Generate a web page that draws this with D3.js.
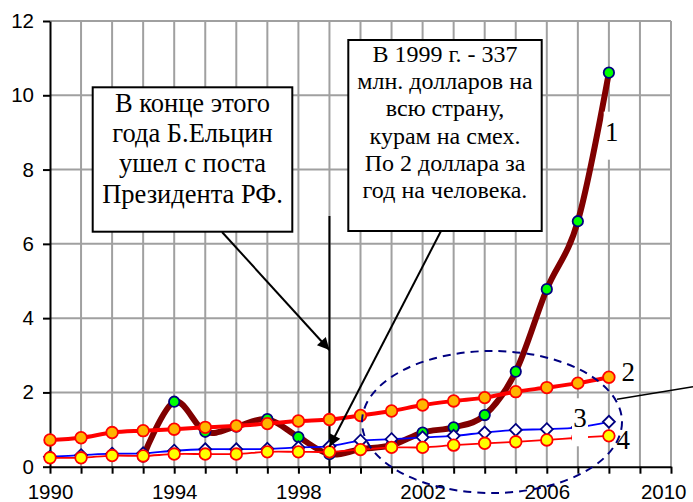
<!DOCTYPE html>
<html lang="ru">
<head>
<meta charset="UTF-8">
<title>Chart</title>
<script src="https://d3js.org/d3.v7.min.js"></script>
<style>
  * { margin: 0; padding: 0; }
  body { background: #fff; }
  .note { font-family: "Liberation Serif", "Times New Roman", serif; fill: #000; }
</style>
</head>
<body>
<svg width="693" height="502"></svg>
<script>
// years for the long series
var years = [1990, 1991, 1992, 1993, 1994, 1995, 1996, 1997, 1998, 1999,
             2000, 2001, 2002, 2003, 2004, 2005, 2006, 2007, 2008];
// series 1 starts in 1993
var years1 = [1993, 1994, 1995, 1996, 1997, 1998, 1999, 2000,
              2001, 2002, 2003, 2004, 2005, 2006, 2007, 2008];
var series1 = [0.27, 1.75, 0.94, 1.08, 1.28, 0.80, 0.337, 0.47,
               0.58, 0.92, 1.06, 1.39, 2.56, 4.78, 6.61, 10.61];
var series2 = [0.72, 0.78, 0.92, 0.97, 1.01, 1.06, 1.10, 1.16, 1.23, 1.27,
               1.38, 1.50, 1.66, 1.77, 1.86, 2.02, 2.13, 2.25, 2.41];
var series3 = [0.27, 0.31, 0.35, 0.36, 0.43, 0.47, 0.47, 0.48, 0.52, 0.55,
               0.70, 0.74, 0.79, 0.83, 0.92, 0.99, 1.01, 1.06, 1.21];
var series4 = [0.24, 0.24, 0.30, 0.29, 0.34, 0.34, 0.34, 0.40, 0.40, 0.40,
               0.46, 0.52, 0.52, 0.58, 0.63, 0.67, 0.72, 0.78, 0.83];
var yTicks = [0, 2, 4, 6, 8, 10, 12];
var xLabels = [1990, 1994, 1998, 2002, 2006, 2010];
var note1 = ["В конце этого", "года Б.Ельцин", "ушел с поста", "Президента РФ."];
var note2 = ["В 1999 г. - 337", "млн. долларов на", "всю страну,",
             "курам на смех.", "По 2 доллара за", "год на человека."];

var svg = d3.select("svg");
var x = d3.scaleLinear().domain([1990, 2010]).range([50, 671]);
var y = d3.scaleLinear().domain([0, 12]).range([466.7, 21]);

// grid
var grid = svg.append("g").attr("stroke", "#a0a0a0").attr("stroke-width", 2);
grid.selectAll(".v").data(d3.range(1991, 2011)).enter().append("line")
  .attr("x1", d => x(d)).attr("x2", d => x(d))
  .attr("y1", y(0)).attr("y2", y(12));
grid.selectAll(".h").data(yTicks.slice(1)).enter().append("line")
  .attr("x1", x(1990)).attr("x2", x(2010))
  .attr("y1", d => y(d)).attr("y2", d => y(d));

// axes
var gy = svg.append("g").attr("transform", "translate(" + x(1990) + ",0)")
  .call(d3.axisLeft(y).tickValues(yTicks).tickSize(7).tickSizeOuter(0).tickPadding(9));
var gx = svg.append("g").attr("transform", "translate(0," + y(0) + ")")
  .call(d3.axisBottom(x).tickValues(d3.range(1990, 2011)).tickSize(7).tickSizeOuter(0).tickPadding(11)
    .tickFormat(d => xLabels.indexOf(d) >= 0 ? d : ""));
[gx, gy].forEach(g => {
  g.attr("font-family", "Liberation Sans, Arial, sans-serif").attr("font-size", 20.5);
  g.selectAll("path, line").attr("stroke", "#000").attr("stroke-width", 2);
  g.selectAll("text").attr("fill", "#000");
});
gx.selectAll("text").filter(d => d === 2010).attr("text-anchor", "end").attr("dx", 15);

// vertical marker at 1999
svg.append("line").attr("x1", x(1999)).attr("x2", x(1999)).attr("y1", 216).attr("y2", y(0))
  .attr("stroke", "#000").attr("stroke-width", 2);

var smooth = d3.curveCatmullRom.alpha(0);
function drawLine(xs, vals, color, w) {
  svg.append("path")
    .datum(vals.map((v, i) => [xs[i], v]))
    .attr("fill", "none").attr("stroke", color).attr("stroke-width", w)
    .attr("stroke-linejoin", "round")
    .attr("d", d3.line().x(d => x(d[0])).y(d => y(d[1])).curve(smooth));
}
function drawDots(xs, vals, fill, stroke, r, sw) {
  svg.append("g").selectAll("circle").data(vals).enter().append("circle")
    .attr("cx", (d, i) => x(xs[i])).attr("cy", d => y(d)).attr("r", r)
    .attr("fill", fill).attr("stroke", stroke).attr("stroke-width", sw);
}

drawLine(years1, series1, "#800000", 6);
drawDots(years1, series1, "#00ff00", "#000080", 5.2, 1.8);

drawLine(years, series2, "#ff0000", 4);
drawDots(years, series2, "#ffb400", "#ff0000", 5.8, 1.8);

drawLine(years, series3, "#0000ff", 1.8);
svg.append("g").selectAll("path").data(series3).enter().append("path")
  .attr("transform", (d, i) => "translate(" + x(years[i]) + "," + y(d) + ")")
  .attr("d", "M0,-6L6,0L0,6L-6,0Z")
  .attr("fill", "#fff").attr("stroke", "#000080").attr("stroke-width", 1.8);

drawLine(years, series4, "#ff0000", 1.8);
drawDots(years, series4, "#ffff00", "#ff0000", 5.8, 1.8);

// series labels
function label(t, cx, cy, bg) {
  if (bg) svg.append("rect").attr("x", cx - 8).attr("y", cy - 20).attr("width", 16).attr("height", 48).attr("fill", "#fff");
  svg.append("text").attr("class", "note").attr("x", cx).attr("y", cy + 9)
    .attr("text-anchor", "middle").style("font-size", "27px").text(t);
}
label("1", 611.7, 131.7, true);
label("2", 628.3, 371.7, false);
label("3", 580, 418.3, true);
label("4", 623.3, 440, false);

// dashed ellipse and its pointer
svg.append("ellipse").attr("cx", 492).attr("cy", 422).attr("rx", 130).attr("ry", 71)
  .attr("fill", "none").attr("stroke", "#000080").attr("stroke-width", 2)
  .attr("stroke-dasharray", "8,6");
svg.append("line").attr("x1", 617).attr("y1", 399.3).attr("x2", 693).attr("y2", 386.7)
  .attr("stroke", "#000").attr("stroke-width", 1.5);

// arrows
svg.append("defs").append("marker").attr("id", "ah")
  .attr("viewBox", "0 0 10 10").attr("refX", 10).attr("refY", 5)
  .attr("markerWidth", 16).attr("markerHeight", 12).attr("markerUnits", "userSpaceOnUse")
  .attr("orient", "auto")
  .append("path").attr("d", "M0,0L10,5L0,10Z").attr("fill", "#000");
svg.append("line").attr("x1", 222).attr("y1", 232).attr("x2", x(1999)).attr("y2", 350)
  .attr("stroke", "#000").attr("stroke-width", 2).attr("marker-end", "url(#ah)");
svg.append("line").attr("x1", 441).attr("y1", 231).attr("x2", x(1999)).attr("y2", 446.7)
  .attr("stroke", "#000").attr("stroke-width", 2).attr("marker-end", "url(#ah)");

// note boxes
function noteBox(lines, x0, y0, x1, y1, fs, base, step) {
  svg.append("rect").attr("x", x0).attr("y", y0).attr("width", x1 - x0).attr("height", y1 - y0)
    .attr("fill", "#fff").attr("stroke", "#000").attr("stroke-width", 2);
  svg.append("g").selectAll("text").data(lines).enter().append("text")
    .attr("class", "note").attr("x", (x0 + x1) / 2).attr("y", (d, i) => base + i * step)
    .attr("text-anchor", "middle").style("font-size", fs + "px").text(d => d);
}
noteBox(note1, 92.7, 87.3, 292.3, 231.7, 26.5, 111.7, 30.3);
noteBox(note2, 348.3, 40, 541.7, 231, 24, 61.7, 27.3);
</script>
</body>
</html>
